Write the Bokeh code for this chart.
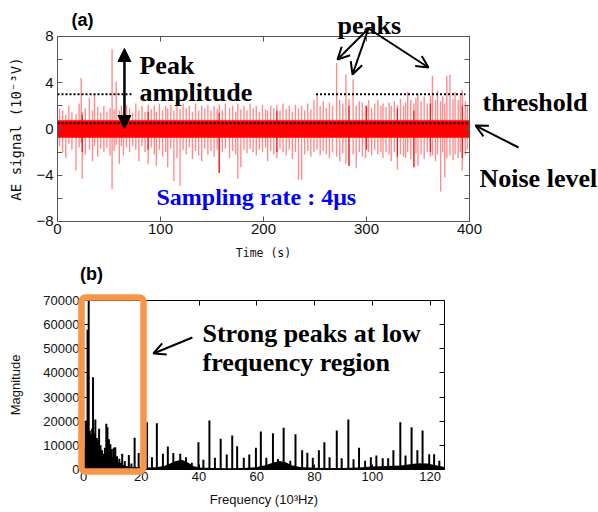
from bokeh.plotting import figure
from bokeh.layouts import column
from bokeh.models import (LinearAxis, FixedTicker, Label, Arrow, NormalHead,
                          OpenHead, BoxAnnotation, Range1d)
from bokeh.embed import file_html
from bokeh.resources import INLINE

# ---------------- panel (a): AE signal ----------------
time_ticks = [0, 100, 200, 300, 400]
signal_ticks = [-8, -4, 0, 4, 8]
signal_minor = [-6, -2, 2, 6]
signal_all_ticks = [-8, -6, -4, -2, 0, 2, 4, 6, 8]

spike_time = [2, 5, 8, 11, 14, 18, 21, 23, 24, 27,
              31, 34, 36, 39, 42, 45, 48, 51, 53, 55,
              57, 60, 62, 64, 67, 70, 73, 76, 79, 82,
              85, 88, 91, 94, 96, 99, 102, 105, 107, 110,
              113, 116, 119, 122, 125, 128, 131, 134, 137, 140,
              143, 146, 149, 152, 155, 157, 160, 163, 167, 170,
              173, 175, 178, 181, 184, 187, 190, 193, 196, 199,
              202, 204, 207, 210, 213, 216, 219, 222, 225, 228,
              231, 234, 237, 240, 243, 246, 249, 252, 255, 258,
              261, 264, 267, 271, 274, 277, 280, 283, 287, 290,
              293, 296, 299, 302, 305, 308, 311, 314, 316, 319,
              322, 324, 327, 330, 333, 336, 338, 340, 343, 346,
              348, 350, 353, 356, 359, 362, 364, 367, 369, 372,
              374, 376, 378, 381, 384, 386, 389, 391, 393, 396,
              398]
spike_high = [1.8, 1.6, 1.2, 2.0, 1.5, 1.3, 2.2, 4.4, 1.5, 1.8,
              2.7, 1.6, 3.0, 1.9, 1.4, 2.0, 1.5, 1.8, 6.9, 1.7,
              4.1, 1.6, 2.0, 1.5, 2.1, 1.8, 1.4, 2.2, 1.6, 2.0,
              1.5, 2.1, 1.7, 2.0, 1.5, 2.2, 1.6, 2.0, 1.8, 2.1,
              1.6, 2.0, 1.7, 2.2, 1.8, 2.0, 1.5, 2.2, 1.6, 2.0,
              1.8, 2.1, 1.6, 2.0, 1.7, 2.1, 1.6, 2.2, 1.8, 2.0,
              1.5, 2.2, 1.7, 2.0, 1.6, 2.2, 1.8, 2.0, 1.5, 2.1,
              1.7, 1.6, 2.0, 1.8, 2.1, 1.6, 2.2, 1.7, 2.0, 1.5,
              2.1, 1.8, 2.0, 1.6, 2.2, 1.7, 2.5, 3.0, 2.0, 2.4,
              1.8, 2.3, 2.0, 5.7, 2.5, 2.2, 4.7, 2.6, 4.3, 2.0,
              2.4, 2.3, 2.0, 2.5, 1.8, 2.2, 2.5, 2.0, 2.2, 1.9,
              2.3, 2.0, 2.4, 2.1, 2.6, 2.0, 2.3, 3.2, 2.5, 2.2,
              2.7, 3.0, 2.4, 2.8, 2.2, 2.9, 4.6, 2.5, 3.3, 2.4,
              2.8, 2.2, 4.6, 4.7, 2.6, 3.2, 2.5, 2.9, 3.4, 2.4,
              2.0]
spike_low = [-1.5, -2.0, -2.5, -1.3, -1.8, -3.6, -1.6, -1.2, -4.3, -2.2,
             -1.8, -2.8, -1.5, -2.4, -1.7, -2.0, -1.6, -2.3, -5.2, -1.9,
             -1.4, -3.0, -1.5, -2.3, -1.6, -2.0, -1.5, -1.8, -2.8, -1.5,
             -2.0, -3.0, -1.6, -2.2, -3.2, -1.8, -2.4, -2.0, -3.3, -1.7,
             -4.5, -2.5, -4.9, -1.8, -2.2, -1.6, -2.6, -1.9, -2.3, -2.8,
             -1.7, -2.2, -1.9, -2.4, -1.8, -3.8, -2.0, -1.7, -2.5, -1.9,
             -2.2, -4.3, -3.3, -1.8, -2.1, -1.7, -2.0, -2.3, -1.8, -2.0,
             -1.6, -2.8, -1.9, -2.2, -2.5, -1.7, -2.0, -2.3, -1.8, -2.6,
             -2.0, -4.4, -4.4, -2.2, -1.9, -2.4, -2.0, -1.8, -2.3, -1.9,
             -2.2, -2.5, -2.0, -2.4, -2.8, -2.1, -3.0, -3.2, -2.2, -3.4,
             -2.0, -2.4, -2.5, -2.0, -2.3, -1.8, -2.2, -2.0, -2.5, -2.0,
             -2.2, -2.8, -2.0, -3.5, -2.2, -2.4, -2.5, -2.0, -2.6, -3.3,
             -2.1, -3.2, -2.2, -2.6, -2.0, -2.4, -2.3, -2.8, -2.2, -5.4,
             -2.0, -4.2, -2.5, -2.3, -2.7, -2.2, -2.5, -2.0, -3.6, -2.2,
             -1.8]
dark_time = [24, 88, 157, 213, 283, 300, 330, 346, 362, 393]
dark_high = [1.2, 1.5, 1.4, 1.6, 2.0, 2.0, 1.8, 1.6, 2.2, 2.0]
dark_low = [-2.0, -1.8, -3.8, -2.0, -3.2, -1.8, -2.4, -3.3, -2.0, -2.5]

noise_time = [0, 400]
noise_high = [0.75, 0.75]
noise_low = [-0.75, -0.75]
noise_level = 0.5
threshold = 3.0
threshold_start = [0, 251]
threshold_end = [73, 396]

# ---------------- panel (b): spectrum ----------------
freq_ticks = [0, 20, 40, 60, 80, 100, 120]
mag_ticks = [0, 10000, 20000, 30000, 40000, 50000, 60000, 70000]

env_freq = [0, 0.5, 1, 1.5, 2, 2.5, 3, 3.5, 4, 4.5, 5, 5.5, 6, 6.5, 7, 7.5,
            8, 8.5, 9, 9.5, 10, 10.5, 11, 11.5, 12, 12.5, 13, 13.5, 14, 14.5,
            15, 16, 17, 18, 19, 20, 22, 25, 28, 30, 32, 34, 36, 38, 40, 45,
            50, 55, 60, 63, 66, 68, 70, 72, 75, 80, 85, 90, 95, 100, 105,
            110, 113, 116, 119, 122, 125]
env_mag = [0, 8000, 13000, 15000, 14000, 13500, 15000, 12000, 13000, 11000,
           9000, 10000, 6000, 5000, 5500, 6000, 7000, 8000, 7500, 6500, 5000,
           5500, 4000, 3500, 3000, 2500, 3000, 2000, 1800, 1500, 1500, 1200,
           1000, 1000, 900, 900, 800, 900, 1500, 2500, 3500, 4000, 3000, 1500,
           800, 600, 500, 600, 1000, 1800, 3000, 3500, 3000, 1800, 1000, 700,
           600, 600, 800, 1200, 1400, 1700, 2200, 2600, 2500, 1800, 1000]

line_freq = [0.3, 0.7, 1.0, 1.4, 1.8, 2.2, 2.6, 3.0, 3.3, 3.7,
             4.1, 4.6, 5.0, 5.4, 5.9, 6.4, 6.9, 7.4, 7.9, 8.3,
             8.8, 9.3, 9.8, 10.5, 11.0, 11.6, 12.4, 13.4, 14.3, 15.7,
             16.6, 17.7, 19.1,
             22.0, 23.7, 25.4, 27.5, 29.2, 31.1, 33.5, 35.5, 37.5, 39.8,
             41.5, 43.6, 45.5, 47.5, 49.6, 51.5, 53.2, 55.5, 57.4, 59.7,
             61.4, 63.3, 65.6, 67.3, 69.3, 71.6, 73.4, 75.7, 77.5, 79.4,
             81.5, 83.4, 85.2, 87.7, 89.4, 91.7, 93.5, 95.4, 97.5, 99.5,
             101.4, 103.6, 105.5, 107.3, 109.7, 111.5, 113.6, 115.6, 117.4,
             119.7, 121.4, 123.2]
line_mag = [9000, 20000, 20300, 57900, 70000, 16000, 14500, 17000, 38200, 15000,
            20700, 13000, 12000, 16900, 10000, 8000, 6500, 9000, 19000, 17500,
            12500, 10500, 8500, 9000, 9200, 5500, 4500, 6500, 3500, 6000,
            2500, 13100, 6800,
            19600, 5100, 19200, 6500, 9500, 6800, 6500, 5100, 2800, 11300,
            4000, 20300, 4900, 12700, 6200, 14100, 9600, 4900, 6200, 9000,
            15700, 4900, 15000, 4300, 17300, 3600, 14600, 8000, 6900, 4900,
            8000, 11300, 5100, 16200, 4700, 20700, 4200, 9000, 3600, 5100,
            5800, 4700, 4700, 8000, 19600, 5800, 17500, 8000, 16200,
            6300, 6300, 3600]
line_base = [0] * len(line_freq)

TICK_FONT = "Liberation Sans"
SERIF = "Liberation Serif"


def frame_axes(p, xb, yb, xt, yt, ymt, yall, xlabel, ylabel, xfont, yfont, tick_size,
               overrides, color, ylab_standoff, xlab_standoff, xlab_size, ylab_size):
    """Four library axes pinned to the data box (x bounds xb, y bounds yb)."""
    common = dict(axis_line_color=color, major_tick_line_color=color,
                  minor_tick_line_color=color, major_tick_in=5, major_tick_out=0,
                  minor_tick_in=5, minor_tick_out=0)
    b = LinearAxis(ticker=FixedTicker(ticks=xt), axis_label=xlabel,
                   fixed_location=yb[0], bounds=xb, **common)
    b.major_label_text_font = TICK_FONT
    b.major_label_text_font_size = tick_size
    b.major_label_text_color = "#111111"
    b.major_label_standoff = 3
    b.axis_label_text_font = xfont
    b.axis_label_text_font_size = xlab_size
    b.axis_label_text_font_style = "normal"
    b.axis_label_text_color = "#111111"
    b.axis_label_standoff = xlab_standoff
    p.add_layout(b, "below")
    l = LinearAxis(ticker=FixedTicker(ticks=yt, minor_ticks=ymt), axis_label=ylabel,
                   fixed_location=xb[0], bounds=yb, **common)
    l.major_label_text_font = TICK_FONT
    l.major_label_text_font_size = tick_size
    l.major_label_text_color = "#111111"
    l.major_label_standoff = 4
    l.major_label_overrides = overrides
    l.axis_label_text_font = yfont
    l.axis_label_text_font_size = ylab_size
    l.axis_label_text_font_style = "normal"
    l.axis_label_text_color = "#111111"
    l.axis_label_standoff = ylab_standoff
    p.add_layout(l, "left")
    a = LinearAxis(ticker=FixedTicker(ticks=xt), fixed_location=yb[1], bounds=xb, **common)
    a.major_label_text_color = None
    p.add_layout(a, "above")
    r = LinearAxis(ticker=FixedTicker(ticks=yall), fixed_location=xb[1], bounds=yb, **common)
    r.major_label_text_color = None
    p.add_layout(r, "right")


def txt(p, x, y, s, size="26px", color="black", font=SERIF, align="left", baseline="alphabetic"):
    p.add_layout(Label(x=x, y=y, text=s, text_font=font, text_font_style="bold",
                       text_font_size=size, text_color=color, text_align=align,
                       text_baseline=baseline))


# ---------- figure (a): frame spans the whole canvas, axes pinned to the data box
p1 = figure(width=598, height=262, x_range=Range1d(-55.34, 525.24),
            y_range=Range1d(-11.546, 11.1135),
            output_backend="svg", toolbar_location=None,
            x_axis_location=None, y_axis_location=None, min_border=0)
p1.grid.visible = False
p1.outline_line_color = None

p1.segment(x0=spike_time, y0=spike_low, x1=spike_time, y1=spike_high,
           line_color="#ff0000", line_alpha=0.45, line_width=1.4)
p1.segment(x0=dark_time, y0=dark_low, x1=dark_time, y1=dark_high,
           line_color="#ff0000", line_alpha=0.9, line_width=1.2)
p1.varea(x=noise_time, y1=noise_low, y2=noise_high, fill_color="#ff0000")
p1.line(x=noise_time, y=[noise_level] * len(noise_time), line_color="black",
        line_width=2, line_dash="2 2")
p1.segment(x0=threshold_start, y0=[threshold] * 2, x1=threshold_end, y1=[threshold] * 2,
           line_color="black", line_width=2, line_dash="2 2")

frame_axes(p1, (0, 400), (-8, 8), time_ticks, signal_ticks, signal_minor, signal_all_ticks,
           "Time (s)", "AE signal (10⁻³V)", "DejaVu Sans Mono", "DejaVu Sans Mono",
           "15px", {-8: "−8", -4: "−4"}, "#555555", 9, 8, "11.5px", "14px")

txt(p1, 24.3, 9.47, "(a)", size="18px", font=TICK_FONT, align="center", baseline="middle")
txt(p1, 79.6, 5.49, "Peak")
txt(p1, 79.6, 3.16, "amplitude")
txt(p1, 271.8, 8.95, "peaks")
txt(p1, 412.6, 2.29, "threshold")
txt(p1, 409.7, -4.28, "Noise level")
txt(p1, 96.1, -5.92, "Sampling rate : 4μs", size="24px", color="#0000ff")

p1.add_layout(Arrow(start=NormalHead(size=13, fill_color="black", line_color="black"),
                    end=NormalHead(size=13, fill_color="black", line_color="black"),
                    x_start=65.0, y_start=6.96, x_end=65.0, y_end=0.04,
                    line_width=2.5, line_color="black"))
for tx, ty in ((271.8, 6.01), (286.4, 4.71), (360.2, 5.32)):
    p1.add_layout(Arrow(end=OpenHead(size=12, line_width=2, line_color="black"),
                        x_start=301.9, y_start=8.69, x_end=tx, y_end=ty,
                        line_width=2, line_color="black"))
p1.add_layout(Arrow(end=OpenHead(size=12, line_width=2, line_color="black"),
                    x_start=447.6, y_start=-1.6, x_end=405.8, y_end=0.30,
                    line_width=2, line_color="black"))

# ---------- figure (b)
p2 = figure(width=598, height=250, x_range=Range1d(-28.74, 178.32),
            y_range=Range1d(-17811, 85740),
            output_backend="svg", toolbar_location=None,
            x_axis_location=None, y_axis_location=None, min_border=0)
p2.grid.visible = False
p2.outline_line_color = None

p2.varea(x=env_freq, y1=[0] * len(env_freq), y2=env_mag, fill_color="black")
p2.segment(x0=line_freq, y0=line_base, x1=line_freq, y1=line_mag,
           line_color="black", line_width=2)

frame_axes(p2, (0, 125), (0, 70000), freq_ticks, mag_ticks, [], mag_ticks,
           "Frequency (10³Hz)", "Magnitude", TICK_FONT, TICK_FONT,
           "13px", {}, "#000000", 17, 7, "13px", "13px")

p2.add_layout(BoxAnnotation(left=-0.69, right=20.78, bottom=-828, top=71240,
                            fill_alpha=0, line_color="#f79646", line_alpha=1.0,
                            line_width=6.5, border_radius=4))
txt(p2, 2.77, 81180, "(b)", size="18px", font=TICK_FONT, align="center", baseline="middle")
txt(p2, 41.2, 56330, "Strong peaks at low")
txt(p2, 41.2, 44320, "frequency region")
p2.add_layout(Arrow(end=OpenHead(size=12, line_width=2, line_color="black"),
                    x_start=37.7, y_start=54670, x_end=24.2, y_end=48050,
                    line_width=2, line_color="black"))

layout = column(p1, p2, spacing=0)
open("out.html", "w").write(file_html(layout, INLINE))
